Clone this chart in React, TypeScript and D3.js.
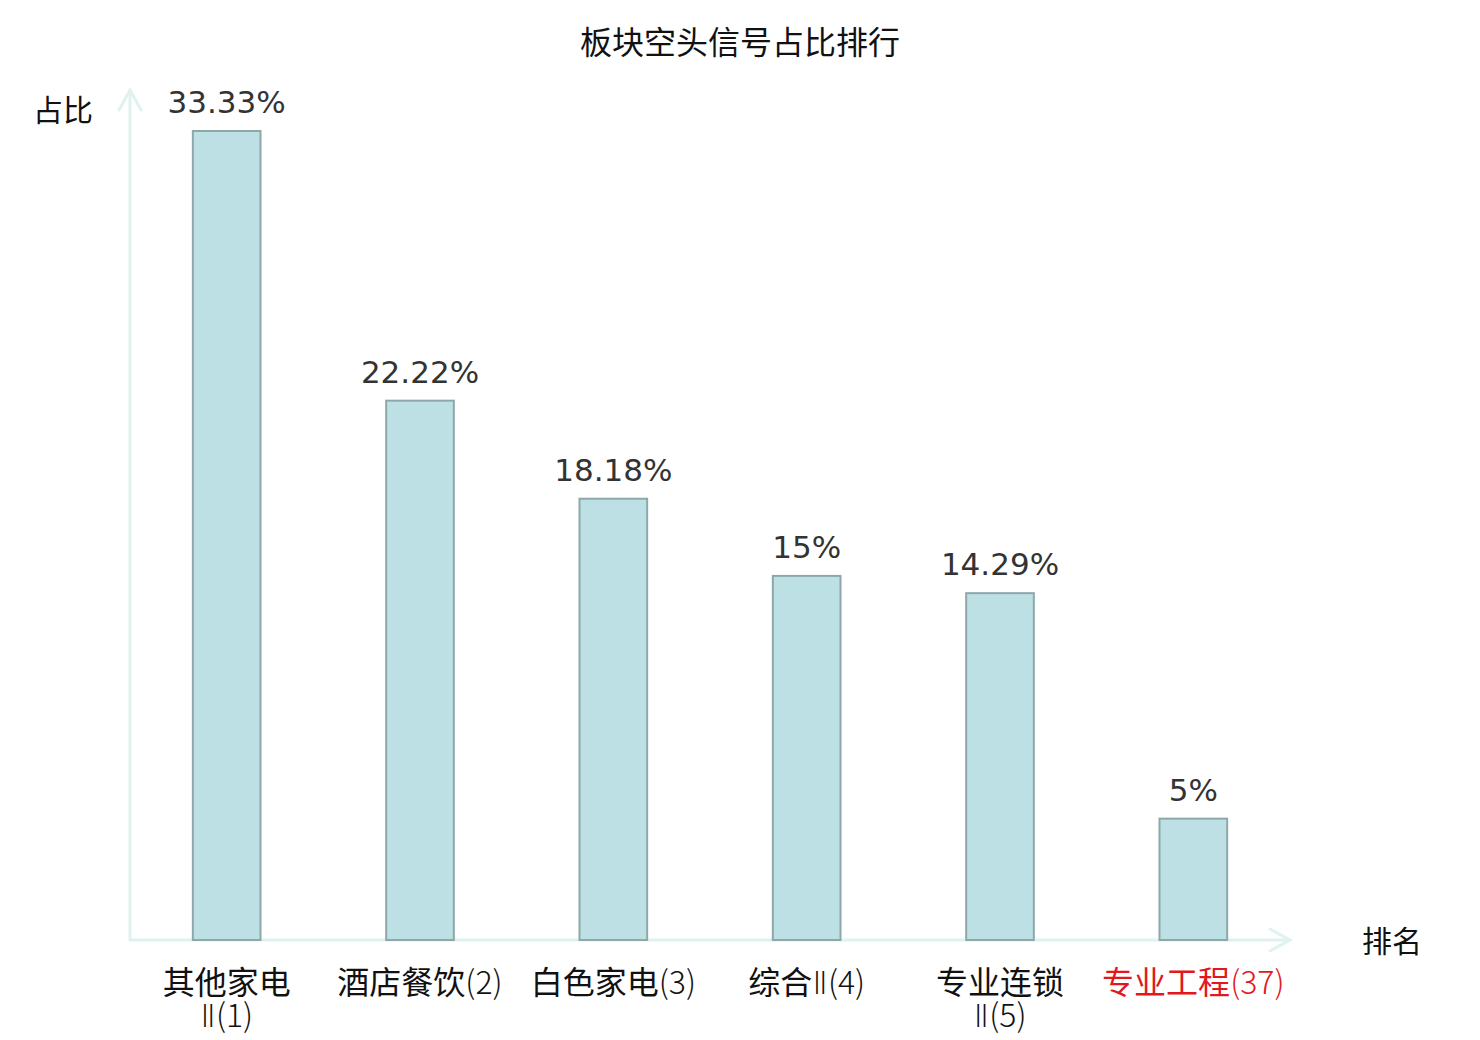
import * as d3 from 'd3';

const categories = ['其他家电\nⅡ(1)', '酒店餐饮(2)', '白色家电(3)', '综合Ⅱ(4)', '专业连锁\nⅡ(5)', '专业工程(37)'];
const values = [33.33, 22.22, 18.18, 15, 14.29, 5];
const valueLabels = ['33.33%', '22.22%', '18.18%', '15%', '14.29%', '5%'];
const highlighted = ['专业工程(37)'];

const W = 1480;
const H = 1040;
const x0 = 130;
const x1 = 1290;
const y0 = 940;
const yTop = 131;
const axisColor = '#dff2ef';
const cjk = '"Noto Sans CJK SC", "Noto Sans", sans-serif';
const latin = '"DejaVu Sans", sans-serif';

// split a label line into han / non-han runs so the latin part can be drawn lighter
const runs = (s: string) => s.match(/[\u4e00-\u9fff]+|Ⅱ|[^\u4e00-\u9fffⅡ]+/g) || [];

const App = () => {
  const x = d3.scaleBand().domain(categories).range([x0, x1]).padding(0);
  const y = d3
    .scaleLinear()
    .domain([0, d3.max(values) || 0])
    .range([y0, yTop]);
  const barW = x.bandwidth() * 0.35;

  return (
    <svg
      width={W}
      height={H}
      style={{ position: 'absolute', left: 0, top: 0, background: '#fff' }}
    >
      <text x={740} y={54} textAnchor="middle" fontFamily={cjk} fontSize={32} fill="#111">
        板块空头信号占比排行
      </text>

      {/* axes */}
      <g stroke={axisColor} strokeWidth={3} fill="none" strokeLinecap="round">
        <line x1={x0} y1={y0} x2={x0} y2={90} />
        <polyline points={`${x0 - 11},110 ${x0},90 ${x0 + 11},110`} />
        <line x1={x0} y1={y0} x2={x1} y2={y0} />
        <polyline points={`${x1 - 20},${y0 - 11} ${x1},${y0} ${x1 - 20},${y0 + 11}`} />
      </g>
      <text x={63} y={121} textAnchor="middle" fontFamily={cjk} fontSize={30} fill="#111">
        占比
      </text>
      <text x={1392} y={952} textAnchor="middle" fontFamily={cjk} fontSize={30} fill="#111">
        排名
      </text>

      {categories.map((c, i) => {
        const cx = (x(c) || 0) + x.bandwidth() / 2;
        const lines = c.split('\n');
        const color = highlighted.includes(c) ? '#e3181d' : '#111';
        return (
          <g key={c}>
            <rect
              x={cx - barW / 2}
              y={y(values[i])}
              width={barW}
              height={y0 - y(values[i])}
              fill="#bce0e3"
              stroke="#8ea8aa"
              strokeWidth={2}
            />
            <text
              x={cx}
              y={y(values[i]) - 18}
              textAnchor="middle"
              fontFamily={latin}
              fontSize={31}
              fill="#333"
            >
              {valueLabels[i]}
            </text>
            {lines.map((l, j) => (
              <text
                key={j}
                x={cx}
                y={994 + j * 33}
                textAnchor="middle"
                fontFamily={cjk}
                fontSize={32}
                fill={color}
              >
                {runs(l).map((r, k) =>
                  /[\u4e00-\u9fff]/.test(r) ? (
                    <tspan key={k}>{r}</tspan>
                  ) : r === 'Ⅱ' ? (
                    <tspan key={k} fontFamily={latin} fontWeight={200}>
                      Ⅱ
                    </tspan>
                  ) : (
                    <tspan key={k} fontWeight={300}>
                      {r}
                    </tspan>
                  )
                )}
              </text>
            ))}
          </g>
        );
      })}
    </svg>
  );
};

export default App;
